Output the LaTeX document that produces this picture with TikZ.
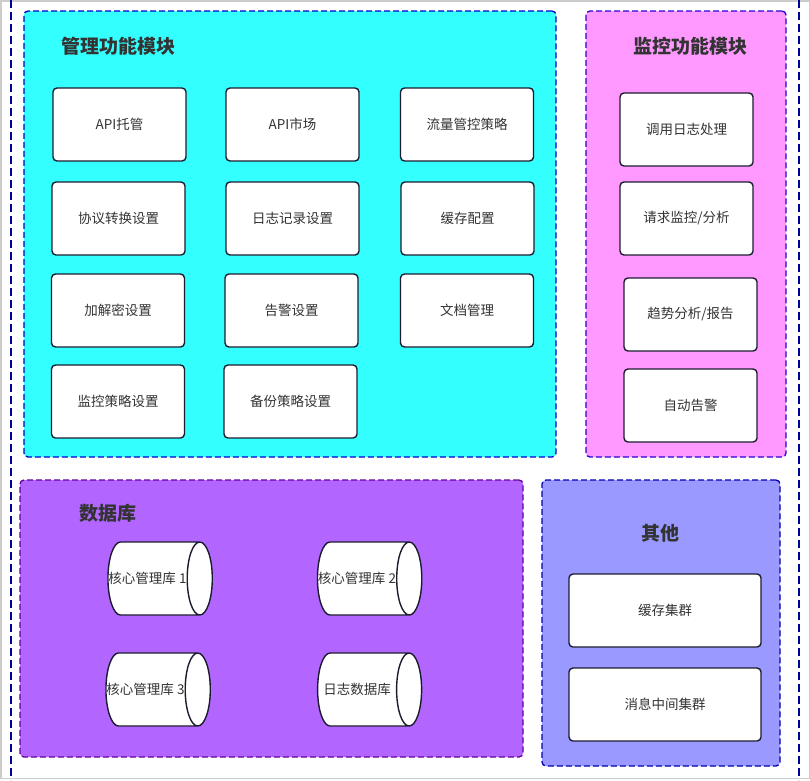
\documentclass[tikz,border=0pt]{standalone}
\usepackage{fontspec}
\setmainfont{Noto Sans CJK SC}
\usepackage{tikz}
\usetikzlibrary{shapes.geometric}
\definecolor{txt}{HTML}{333333}
\definecolor{boxline}{HTML}{1C1C30}
\definecolor{mgmtfill}{HTML}{33FFFF}
\definecolor{monfill}{HTML}{FF99FF}
\definecolor{dbfill}{HTML}{B266FF}
\definecolor{otherfill}{HTML}{9999FF}
\tikzset{
  module/.style={draw=#1, line width=1.3pt, dash pattern=on 6pt off 3pt, rounded corners=4pt, inner sep=0pt},
  title/.style={txt, font=\fontsize{19}{22}\selectfont\bfseries},
  item/.style={draw=boxline, fill=white, line width=1.4pt, rounded corners=4pt, minimum width=133pt, minimum height=73pt, inner sep=0pt, text=txt, font=\fontsize{13.5}{16}\selectfont},
  store/.style={cylinder, draw=boxline, fill=white, line width=1.4pt, minimum width=73pt, minimum height=104pt, aspect=2, inner sep=0pt, text=txt, font=\fontsize{13.5}{16}\selectfont, execute at begin node={\hspace*{-12pt}}},
  frame/.style={draw=blue!60!black, line width=1.6pt, dash pattern=on 8pt off 4pt}
}
\begin{document}
\begin{tikzpicture}[x=1pt, y=-1pt]
  \useasboundingbox (0,0) rectangle (810,780);
  \draw[gray!40, line width=1.5pt] (0.75,0.75) rectangle (809.25,778.5);
  \draw[frame] (11,0) -- (11,780);
  \draw[frame] (799,0) -- (799,780);

  % modules
  \node[module=blue!80!black, fill=mgmtfill, minimum width=532pt, minimum height=446pt] (mgmt) at (290,234) {};
  \node[module=blue!70!violet, fill=monfill, minimum width=200pt, minimum height=446pt] (mon) at (686,234) {};
  \node[module=violet!80!blue, fill=dbfill, minimum width=503pt, minimum height=277pt] (db) at (271.5,618.5) {};
  \node[module=blue!70!black, fill=otherfill, minimum width=238pt, minimum height=286pt] (other) at (661,623) {};
  \node[title] (mgmttitle) at (118,46) {管理功能模块};
  \node[title] (montitle) at (690,46) {监控功能模块};
  \node[title] (dbtitle) at (108,513) {数据库};
  \node[title] (othertitle) at (660,533) {其他};

  % management
  \node[item] (apihost) at (119.5,124.5) {API托管};
  \node[item] (apimarket) at (292.5,124.5) {API市场};
  \node[item] (flow) at (467,124.5) {流量管控策略};
  \node[item] (proto) at (118.5,218.5) {协议转换设置};
  \node[item] (logrec) at (292.5,218.5) {日志记录设置};
  \node[item] (cache) at (467.5,218.5) {缓存配置};
  \node[item] (crypt) at (118,310.5) {加解密设置};
  \node[item] (alarm) at (291.5,310.5) {告警设置};
  \node[item] (docs) at (467,310.5) {文档管理};
  \node[item] (monpol) at (118,401.5) {监控策略设置};
  \node[item] (backup) at (290.5,401.5) {备份策略设置};

  % monitoring
  \node[item] (calllog) at (686.5,129.5) {调用日志处理};
  \node[item] (reqmon) at (686.5,218.5) {请求监控/分析};
  \node[item] (trend) at (690.5,314.5) {趋势分析/报告};
  \node[item] (autoalarm) at (690.5,405.5) {自动告警};

  % database
  \node[store] (core1) at (153.5,578.5) {核心管理库 1};
  \node[store] (core2) at (363,578.5) {核心管理库 2};
  \node[store] (core3) at (151.5,689.5) {核心管理库 3};
  \node[store] (logdb) at (363,689.5) {日志数据库};

  % other
  \node[item, minimum width=192pt] (cachecluster) at (665,610.5) {缓存集群};
  \node[item, minimum width=192pt] (mqcluster) at (665,704.5) {消息中间集群};
\end{tikzpicture}
\end{document}
